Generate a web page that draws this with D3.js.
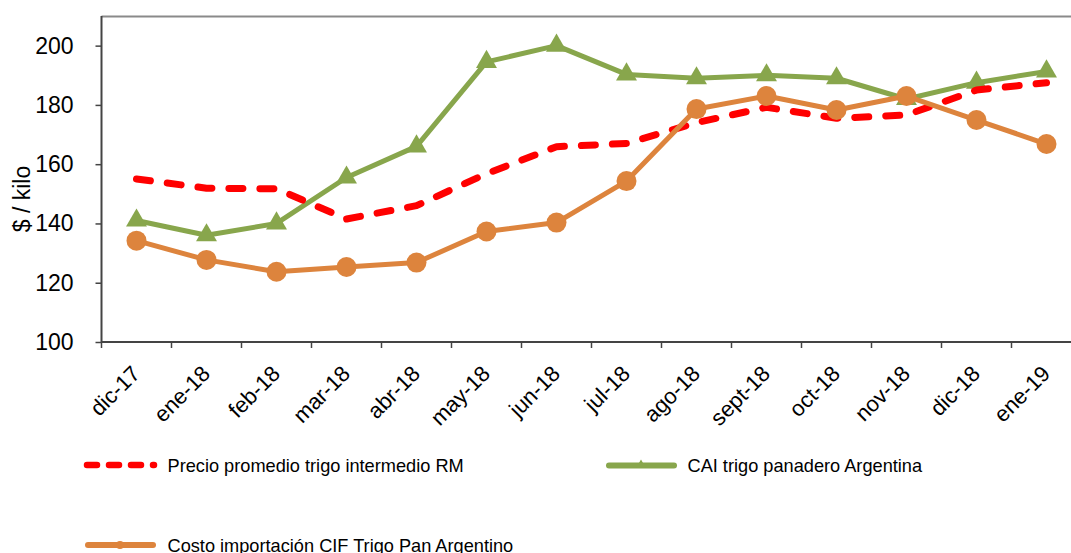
<!DOCTYPE html>
<html><head><meta charset="utf-8">
<script src="https://cdn.jsdelivr.net/npm/d3@7"></script>
<style>html,body{margin:0;padding:0;background:#fff;}svg{display:block;font-family:"Liberation Sans",Arial,sans-serif;}</style>
</head><body>
<script>
const categories = ["dic-17","ene-18","feb-18","mar-18","abr-18","may-18","jun-18","jul-18","ago-18","sept-18","oct-18","nov-18","dic-18","ene-19"];
const precioRM = [155.0,151.9,151.7,141.5,146.0,156.8,165.9,167.0,174.0,179.2,175.5,176.6,185.0,187.5];
const caiArgentina = [141.0,136.0,140.0,155.5,166.0,194.5,200.0,190.3,189.0,190.0,189.0,182.0,187.5,191.3];
const cifArgentina = [134.2,127.7,123.7,125.3,126.8,137.3,140.3,154.3,178.6,183.0,178.3,183.0,174.9,166.8];
const yTicks = [100,120,140,160,180,200];
const seriesNames = ["Precio promedio trigo intermedio RM","CAI trigo panadero Argentina","Costo importación CIF Trigo Pan Argentino"];
const yTitle = "$ / kilo";

const W = 1071, H = 553;
const RED = "#FF0000", GREEN = "#88A64C", ORANGE = "#DD843D";
const svg = d3.select("body").append("svg").attr("width", W).attr("height", H);

const x = d3.scaleBand().domain(categories).range([101.5, 1081.5]).padding(0);
const y = d3.scaleLinear().domain([100, 210]).range([342, 16]);
const cx = d => x(d) + x.bandwidth() / 2;

// top frame
svg.append("line").attr("x1", 101.5).attr("x2", W).attr("y1", 16.5).attr("y2", 16.5)
  .attr("stroke", "#8a8a8a").attr("stroke-width", 2);

// Y axis
const yAxis = svg.append("g").attr("transform", "translate(101.5,0)")
  .call(d3.axisLeft(y).tickValues(yTicks).tickSize(6).tickPadding(22).tickFormat(d3.format("d")));
yAxis.select(".domain").attr("stroke", "#444").attr("stroke-width", 2).attr("d", "M0,16V342");
yAxis.selectAll(".tick line").attr("stroke", "#444").attr("stroke-width", 1.5);
yAxis.selectAll(".tick text").attr("font-size", 23).attr("fill", "#000")
  .attr("font-family", '"Liberation Sans",Arial,sans-serif');

// X axis
const xAxis = svg.append("g").attr("transform", "translate(0,342)")
  .call(d3.axisBottom(x).tickSize(0).tickFormat(d => d));
xAxis.select(".domain").attr("stroke", "#444").attr("stroke-width", 2).attr("d", "M101.5,0H" + W);
xAxis.selectAll(".btick").data(categories).enter().append("line").attr("class", "btick")
  .attr("x1", d => x(d)).attr("x2", d => x(d)).attr("y1", 0).attr("y2", 6)
  .attr("stroke", "#444").attr("stroke-width", 1.5);
xAxis.selectAll(".tick text")
  .attr("font-size", 22).attr("fill", "#000")
  .attr("font-family", '"Liberation Sans",Arial,sans-serif')
  .attr("text-anchor", "end").attr("dy", null).attr("y", null)
  .attr("transform", "translate(5,33) rotate(-45)");

// Y title
svg.append("text").attr("transform", "translate(30,199) rotate(-90)")
  .attr("text-anchor", "middle").attr("font-size", 23).attr("fill", "#000").text(yTitle);

const line = d3.line().x((d, i) => cx(categories[i])).y(d => y(d));
const tri = d3.symbol().type(d3.symbolTriangle).size(190);

// green series
svg.append("path").datum(caiArgentina).attr("d", line).attr("fill", "none")
  .attr("stroke", GREEN).attr("stroke-width", 5).attr("stroke-linejoin", "round");
svg.selectAll(".tri").data(caiArgentina).enter().append("path").attr("class", "tri")
  .attr("d", tri).attr("fill", GREEN)
  .attr("transform", (d, i) => `translate(${cx(categories[i])},${y(d)})`);

// red dashed
svg.append("path").datum(precioRM).attr("d", line).attr("fill", "none")
  .attr("stroke", RED).attr("stroke-width", 7).attr("stroke-dasharray", "14,17")
  .attr("stroke-linecap", "round").attr("stroke-linejoin", "round");

// orange
svg.append("path").datum(cifArgentina).attr("d", line).attr("fill", "none")
  .attr("stroke", ORANGE).attr("stroke-width", 5).attr("stroke-linejoin", "round");
svg.selectAll(".dot").data(cifArgentina).enter().append("circle").attr("class", "dot")
  .attr("cx", (d, i) => cx(categories[i])).attr("cy", d => y(d)).attr("r", 10).attr("fill", ORANGE);

// Legend
const leg = svg.append("g").attr("font-size", 18.2).attr("fill", "#000");
leg.append("line").attr("x1", 87).attr("x2", 154).attr("y1", 465).attr("y2", 465)
  .attr("stroke", RED).attr("stroke-width", 6.5).attr("stroke-dasharray", "10,12").attr("stroke-linecap", "round");
leg.append("text").attr("x", 167.5).attr("y", 471.5).text(seriesNames[0]);
leg.append("line").attr("x1", 609).attr("x2", 674).attr("y1", 465.5).attr("y2", 465.5)
  .attr("stroke", GREEN).attr("stroke-width", 6).attr("stroke-linecap", "round");
leg.append("path").attr("d", d3.symbol().type(d3.symbolTriangle).size(40)).attr("fill", GREEN)
  .attr("transform", "translate(641,465)");
leg.append("text").attr("x", 687.5).attr("y", 472).text(seriesNames[1]);
leg.append("line").attr("x1", 88).attr("x2", 153).attr("y1", 545).attr("y2", 545)
  .attr("stroke", ORANGE).attr("stroke-width", 6).attr("stroke-linecap", "round");
leg.append("circle").attr("cx", 120).attr("cy", 545).attr("r", 4).attr("fill", ORANGE);
leg.append("text").attr("x", 167.5).attr("y", 551.5).text(seriesNames[2]);
</script>
</body></html>
